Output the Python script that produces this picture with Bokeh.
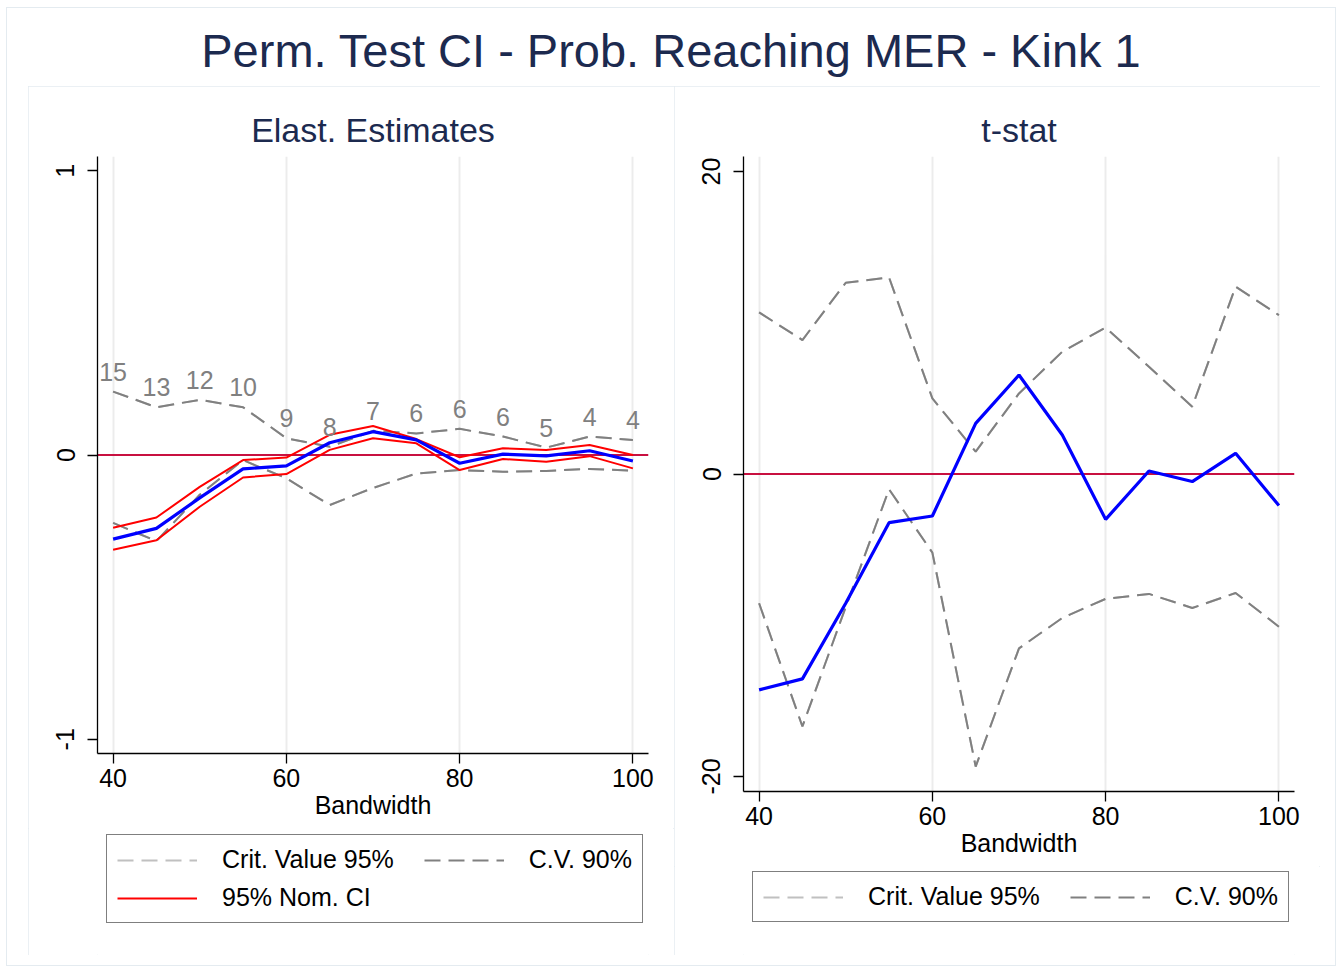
from bokeh.plotting import figure
from bokeh.models import (ColumnDataSource, FixedTicker, Legend, LegendItem, Span,
                          Div, Spacer, Range1d)
from bokeh.layouts import column, row
from bokeh.core.properties import value
from bokeh.embed import file_html
from bokeh.resources import INLINE

# ---------------- data ----------------
bandwidth = [40, 45, 50, 55, 60, 65, 70, 75, 80, 85, 90, 95, 100]
n_obs = ["15", "13", "12", "10", "9", "8", "7", "6", "6", "6", "5", "4", "4"]

elast_est = [-0.296, -0.258, -0.151, -0.049, -0.038, 0.043, 0.082, 0.053, -0.029, 0.003, -0.003, 0.015, -0.021]
elast_ci_hi = [-0.256, -0.220, -0.112, -0.018, -0.009, 0.071, 0.102, 0.056, -0.008, 0.024, 0.018, 0.035, 0.000]
elast_ci_lo = [-0.333, -0.300, -0.182, -0.079, -0.067, 0.018, 0.059, 0.041, -0.053, -0.014, -0.024, -0.004, -0.047]
# 95% critical values coincide with the 90% ones (hidden underneath)
elast_cv95_hi = [0.223, 0.168, 0.194, 0.168, 0.059, 0.029, 0.085, 0.076, 0.092, 0.065, 0.026, 0.065, 0.053]
elast_cv95_lo = [-0.239, -0.303, -0.140, -0.018, -0.082, -0.176, -0.116, -0.065, -0.053, -0.059, -0.056, -0.049, -0.055]
elast_cv90_hi = [0.223, 0.168, 0.194, 0.168, 0.059, 0.029, 0.085, 0.076, 0.092, 0.065, 0.026, 0.065, 0.053]
elast_cv90_lo = [-0.239, -0.303, -0.140, -0.018, -0.082, -0.176, -0.116, -0.065, -0.053, -0.059, -0.056, -0.049, -0.055]

tstat = [-14.28, -13.55, -8.55, -3.22, -2.78, 3.35, 6.55, 2.58, -3.0, 0.2, -0.5, 1.37, -2.09]
tstat_cv95_hi = [10.69, 8.86, 12.65, 13.0, 5.0, 1.48, 5.33, 8.09, 9.68, 7.1, 4.45, 12.39, 10.51]
tstat_cv95_lo = [-8.55, -16.7, -8.8, -1.01, -5.2, -19.35, -11.53, -9.52, -8.26, -7.93, -8.86, -7.87, -10.1]
tstat_cv90_hi = [10.69, 8.86, 12.65, 13.0, 5.0, 1.48, 5.33, 8.09, 9.68, 7.1, 4.45, 12.39, 10.51]
tstat_cv90_lo = [-8.55, -16.7, -8.8, -1.01, -5.2, -19.35, -11.53, -9.52, -8.26, -7.93, -8.86, -7.87, -10.1]

x_ticks = [40, 60, 80, 100]
elast_ticks = [-1, 0, 1]
tstat_ticks = [-20, 0, 20]

# ---------------- style ----------------
FONT = "Liberation Sans"
NAVY = "#1c2a4f"
GRAY = "#808080"
LIGHTGRAY = "#c0c0c0"
RED = "#ff0000"
BLUE = "#0000ff"
DASH = "16 8"
PANEL_BORDER = "#e4ebf0"


def make_panel(title, y_range, y_ticks, height):
    p = figure(width=646, height=height, x_range=Range1d(38.2, 101.8), y_range=y_range,
               output_backend="svg", toolbar_location=None, title=title,
               min_border_left=69, min_border_right=26, min_border_top=70,
               min_border_bottom=75)
    p.outline_line_color = None
    p.background_fill_color = "white"
    p.border_fill_color = "white"

    p.title.align = "center"
    p.title.text_font = FONT
    p.title.text_font_size = "34px"
    p.title.text_font_style = "normal"
    p.title.text_color = NAVY
    p.title.standoff = 16

    p.xaxis.ticker = FixedTicker(ticks=x_ticks)
    p.yaxis.ticker = FixedTicker(ticks=y_ticks)
    p.yaxis.major_label_overrides = {t: str(t) for t in y_ticks}
    p.yaxis.major_label_orientation = "vertical"
    for ax in (p.xaxis, p.yaxis):
        ax.axis_line_color = "black"
        ax.axis_line_width = 1.3
        ax.major_tick_line_color = "black"
        ax.major_tick_line_width = 1.3
        ax.major_tick_out = 10
        ax.major_tick_in = 0
        ax.minor_tick_line_color = None
        ax.major_label_text_font = FONT
        ax.major_label_text_font_size = "25px"
        ax.major_label_text_color = "black"
    p.yaxis.major_label_standoff = 13
    p.xaxis.major_label_standoff = 5
    p.xaxis.axis_label = "Bandwidth"
    p.xaxis.axis_label_text_font = FONT
    p.xaxis.axis_label_text_font_size = "25px"
    p.xaxis.axis_label_text_font_style = "normal"
    p.xaxis.axis_label_text_color = "black"
    p.xaxis.axis_label_standoff = 1

    p.xgrid.ticker = FixedTicker(ticks=x_ticks)
    p.xgrid.grid_line_color = "#ececec"
    p.xgrid.grid_line_width = 2
    p.ygrid.grid_line_color = None

    p.add_layout(Span(location=0, dimension="width", line_color="#c81040",
                      line_width=2, level="underlay"))
    return p


def make_legend_fig(height, src, specs, loc):
    # legend-only canvas; the sample renderers lie outside its (0..1) view
    f = figure(width=646, height=height, x_range=Range1d(0, 1), y_range=Range1d(0, 1),
               output_backend="svg", toolbar_location=None, min_border=0,
               x_axis_location=None, y_axis_location=None)
    f.outline_line_color = None
    f.xgrid.visible = False
    f.ygrid.visible = False
    f.background_fill_color = "white"
    f.border_fill_color = "white"
    items = []
    for label, col, color, dash in specs:
        kw = dict(line_color=color, line_width=2)
        if dash:
            kw["line_dash"] = dash
        r = f.line("x", col, source=src, **kw)
        items.append(LegendItem(label=label, renderers=[r]))
    leg = Legend(items=items, orientation="horizontal", ncols=2, location=loc,
                 glyph_width=80, glyph_height=20, label_standoff=25, spacing=9,
                 padding=10, margin=0, border_line_color="black", border_line_width=1.3,
                 background_fill_color="white", background_fill_alpha=1,
                 label_text_font=FONT, label_text_font_size="25px",
                 label_text_color="black")
    f.add_layout(leg)
    return f


# ---------------- left panel ----------------
src1 = ColumnDataSource(dict(x=bandwidth, est=elast_est, hi=elast_ci_hi, lo=elast_ci_lo,
                             c95h=elast_cv95_hi, c95l=elast_cv95_lo,
                             cvh=elast_cv90_hi, cvl=elast_cv90_lo, lab=n_obs))
p1 = make_panel("Elast. Estimates", Range1d(-1.05, 1.05), elast_ticks, 742)
p1.line("x", "c95h", source=src1, line_color=LIGHTGRAY, line_dash=DASH, line_width=2)
p1.line("x", "c95l", source=src1, line_color=LIGHTGRAY, line_dash=DASH, line_width=2)
p1.line("x", "cvh", source=src1, line_color=GRAY, line_dash=DASH, line_width=2)
p1.line("x", "cvl", source=src1, line_color=GRAY, line_dash=DASH, line_width=2)
p1.line("x", "hi", source=src1, line_color=RED, line_width=2)
p1.line("x", "lo", source=src1, line_color=RED, line_width=2)
p1.line("x", "est", source=src1, line_color=BLUE, line_width=3.2)
p1.text("x", "cvh", text="lab", source=src1, text_align="center",
        text_baseline="bottom", y_offset=-11, text_color=GRAY,
        text_font=value(FONT), text_font_size="25px")
l1 = make_legend_fig(127, src1, [("Crit. Value 95%   ", "c95h", LIGHTGRAY, DASH),
                                 ("C.V. 90%", "cvh", GRAY, DASH),
                                 ("95% Nom. CI", "hi", RED, None)], (9, 32))

# ---------------- right panel ----------------
src2 = ColumnDataSource(dict(x=bandwidth, t=tstat, c95h=tstat_cv95_hi, c95l=tstat_cv95_lo,
                             cvh=tstat_cv90_hi, cvl=tstat_cv90_lo))
p2 = make_panel("t-stat", Range1d(-21, 21), tstat_ticks, 780)
p2.line("x", "c95h", source=src2, line_color=LIGHTGRAY, line_dash=DASH, line_width=2)
p2.line("x", "c95l", source=src2, line_color=LIGHTGRAY, line_dash=DASH, line_width=2)
p2.line("x", "cvh", source=src2, line_color=GRAY, line_dash=DASH, line_width=2)
p2.line("x", "cvl", source=src2, line_color=GRAY, line_dash=DASH, line_width=2)
p2.line("x", "t", source=src2, line_color=BLUE, line_width=3.2)
l2 = make_legend_fig(89, src2, [("Crit. Value 95%   ", "c95h", LIGHTGRAY, DASH),
                                ("C.V. 90%", "cvh", GRAY, DASH)], (9, 33))

# ---------------- page ----------------
title = Div(text=('<div style="font-family:\'Liberation Sans\'; font-size:47px; color:%s; '
                  'text-align:center; width:1330px; padding-top:10px; white-space:nowrap;">'
                  'Perm. Test CI - Prob. Reaching MER - Kink 1</div>') % NAVY,
            width=1330, height=79, margin=(0, 0, 0, 0))

panel_style = {"outline": "1px solid " + PANEL_BORDER, "outline-offset": "-1px"}
panel1 = column(p1, l1, styles=panel_style)
panel2 = column(p2, l2, styles=panel_style)

inner = column(title,
               row(Spacer(width=22, height=869), panel1, panel2, Spacer(width=16, height=869)),
               Spacer(width=1330, height=11),
               styles={"outline": "1px solid " + PANEL_BORDER, "outline-offset": "-1px",
                       "background": "white"})
layout = column(Spacer(width=1336, height=7), row(Spacer(width=6, height=959), inner))

open("out.html", "w").write(file_html(layout, INLINE))
